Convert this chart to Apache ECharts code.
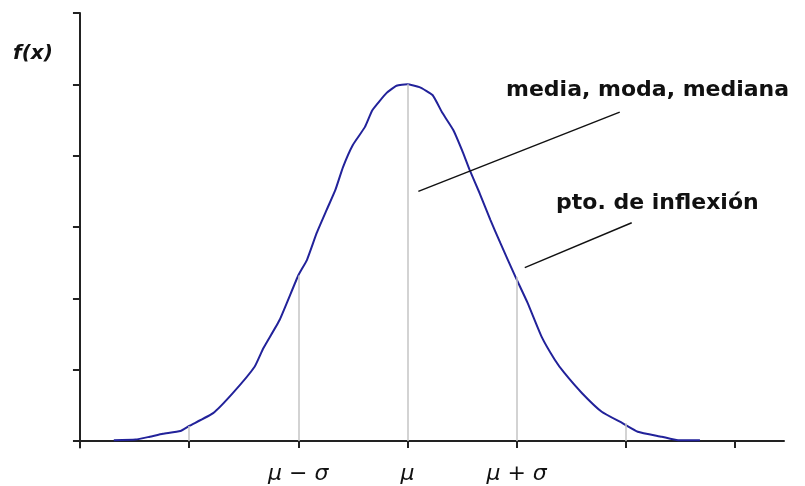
<!DOCTYPE html>
<html>
<head>
<meta charset="utf-8">
<script src="https://cdn.jsdelivr.net/npm/echarts@6/dist/echarts.min.js"></script>
<style>
  html, body { margin: 0; padding: 0; background: #fff; }
  #chart { width: 805px; height: 486px; }
</style>
</head>
<body>
<div id="chart"></div>
<script>
// curva normal, x en unidades de tick, y en unidades de tick
var curveX = [0.31, 0.51, 0.64, 0.76, 0.92, 1.0, 1.22, 1.4, 1.6, 1.68, 1.83, 2.0, 2.08, 2.17, 2.26, 2.34, 2.41, 2.5, 2.61, 2.68, 2.81, 2.9, 3.0,
              3.11, 3.23, 3.32, 3.42, 3.51, 3.57, 3.66, 3.76, 3.85, 3.99, 4.1, 4.23, 4.35, 4.44, 4.6, 4.78, 4.97, 5.11, 5.33, 5.48, 5.68];
var curveY = [0.01, 0.02, 0.06, 0.1, 0.14, 0.21, 0.39, 0.67, 1.04, 1.3, 1.7, 2.32, 2.54, 2.92, 3.24, 3.52, 3.84, 4.15, 4.4, 4.64, 4.88, 4.98, 5.0,
              4.96, 4.85, 4.6, 4.36, 4.04, 3.8, 3.48, 3.1, 2.78, 2.3, 1.94, 1.46, 1.14, 0.95, 0.67, 0.41, 0.25, 0.13, 0.06, 0.01, 0.01];

// líneas verticales grises desde el eje hasta la curva
var dropX = [1, 2, 3, 4, 5];
var dropTop = [0.21, 2.32, 5.0, 2.3, 0.25];

// ticks y etiquetas
var xTicks = [0, 1, 2, 3, 4, 5, 6];
var yTicks = [0, 1, 2, 3, 4, 5, 6];
var xTickLabels = ['', '', 'μ − σ', 'μ', 'μ + σ', '', ''];

// líneas de llamada (inicio y fin)
var leaders = [
  [[3.1, 3.5], [4.945, 4.61]],
  [[4.075, 2.43], [5.055, 3.06]]
];

var myChart = echarts.init(document.getElementById('chart'));

var points = curveX.map(function (x, i) { return [x, curveY[i]]; });

var drops = dropX.map(function (x, i) {
  return [{ coord: [x, 0] }, { coord: [x, dropTop[i]] }];
});

var leaderLines = leaders.map(function (l) {
  return [{ coord: l[0] }, { coord: l[1] }];
});

var axisStyle = { color: '#222', width: 2 };

var option = {
  animation: false,
  grid: { left: 74.5, right: 21, top: 13, bottom: 38.6 },
  xAxis: {
    type: 'value',
    min: -0.05,
    max: 6.45,
    axisLine: { onZero: true, lineStyle: axisStyle },
    axisTick: { customValues: xTicks, length: 7, lineStyle: axisStyle },
    axisLabel: {
      customValues: [2, 3, 4],
      formatter: function (v) { return xTickLabels[Math.round(v)]; },
      margin: 16,
      fontFamily: 'DejaVu Sans',
      fontStyle: 'italic',
      fontSize: 22,
      color: '#111'
    },
    splitLine: { show: false }
  },
  yAxis: {
    type: 'value',
    min: -0.09,
    max: 6,
    axisLine: { show: true, onZero: true, lineStyle: axisStyle },
    axisTick: { show: true, customValues: yTicks, length: 7, lineStyle: axisStyle },
    axisLabel: { show: false },
    splitLine: { show: false }
  },
  series: [
    {
      type: 'line',
      data: points,
      showSymbol: false,
      smooth: 0.15,
      lineStyle: { color: '#22229a', width: 2 },
      z: 3,
      markLine: {
        silent: true,
        symbol: 'none',
        label: { show: false },
        lineStyle: { color: '#c4c4c4', width: 1.5, type: 'solid' },
        data: drops
      }
    },
    {
      type: 'line',
      data: [],
      markLine: {
        silent: true,
        symbol: 'none',
        label: { show: false },
        lineStyle: { color: '#111', width: 1.5, type: 'solid' },
        data: leaderLines
      }
    }
  ],
  graphic: [
    {
      type: 'text', left: 13, top: 44,
      style: { text: 'f(x)', font: 'italic bold 20px "DejaVu Sans"', fill: '#111' }
    },
    {
      type: 'text', left: 506, top: 79,
      style: { text: 'media, moda, mediana', font: 'bold 22px "DejaVu Sans"', fill: '#111' }
    },
    {
      type: 'text', left: 556, top: 192,
      style: { text: 'pto. de inflexión', font: 'bold 22px "DejaVu Sans"', fill: '#111' }
    }
  ]
};

myChart.setOption(option);
</script>
</body>
</html>
